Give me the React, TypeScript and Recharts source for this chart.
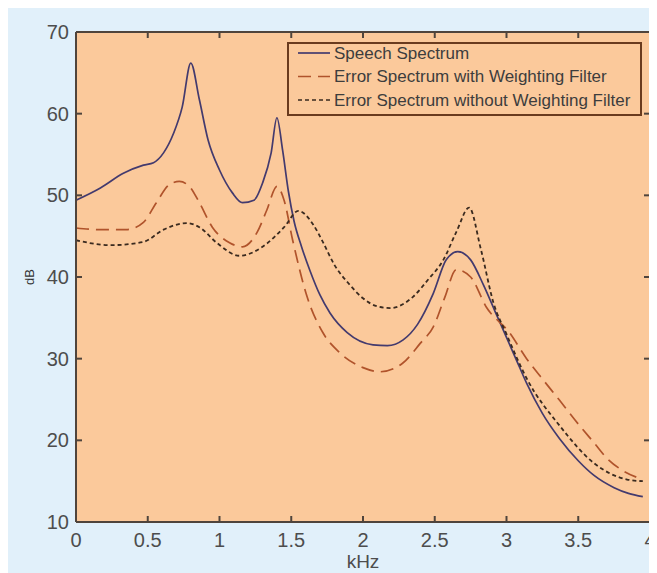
import React from 'react';
import { LineChart, Line, XAxis, YAxis, ReferenceArea, ReferenceLine, Legend } from 'recharts';

// frequency (kHz) / level (dB) samples
const speechKHz = [0, 0.17, 0.33, 0.47, 0.54, 0.61, 0.68, 0.74, 0.8, 0.86, 0.92, 1.0, 1.09, 1.16, 1.24, 1.3, 1.36, 1.4, 1.44, 1.48, 1.52, 1.57, 1.63, 1.7, 1.77, 1.89, 2.07, 2.17, 2.28, 2.38, 2.49, 2.58, 2.66, 2.75, 2.84, 2.92, 3.0, 3.07, 3.14, 3.25, 3.37, 3.5, 3.61, 3.75, 3.85, 3.95];
const speechDb = [49.4, 50.9, 52.7, 53.7, 54.0, 55.2, 57.6, 60.8, 66.2, 61.7, 56.8, 53.1, 50.3, 49.1, 49.4, 51.5, 55.2, 59.5, 55.5, 50.5, 46.8, 43.8, 40.8, 37.8, 35.6, 33.2, 31.7, 31.6, 32.3, 34.2, 38.0, 42.1, 43.1, 42.1, 39.0, 35.8, 32.6, 29.8, 27.0, 23.3, 20.2, 17.5, 15.7, 14.2, 13.5, 13.1];

const weightedKHz = [0, 0.17, 0.35, 0.47, 0.56, 0.65, 0.72, 0.79, 0.86, 0.95, 1.07, 1.16, 1.26, 1.33, 1.4, 1.45, 1.51, 1.61, 1.72, 1.84, 2.0, 2.12, 2.28, 2.4, 2.49, 2.57, 2.65, 2.75, 2.86, 3.02, 3.14, 3.26, 3.37, 3.5, 3.61, 3.7, 3.8, 3.95];
const weightedDb = [46.0, 45.8, 45.8, 46.7, 49.1, 51.3, 51.7, 51.1, 49.1, 46.1, 44.2, 43.7, 45.4, 48.2, 51.1, 49.4, 44.5, 37.6, 33.2, 30.7, 28.9, 28.4, 29.5, 31.9, 33.9, 37.5, 40.9, 40.0, 36.3, 33.2, 30.0, 27.3, 24.9, 22.0, 19.7, 17.8, 16.4, 15.2];

const plainKHz = [0, 0.24, 0.47, 0.61, 0.77, 0.86, 0.98, 1.14, 1.3, 1.45, 1.55, 1.65, 1.72, 1.8, 1.9, 2.0, 2.1, 2.19, 2.35, 2.45, 2.56, 2.65, 2.74, 2.82, 2.91, 3.0, 3.14, 3.37, 3.61, 3.84, 3.95];
const plainDb = [44.5, 43.9, 44.3, 45.8, 46.6, 46.1, 44.2, 42.6, 43.7, 46.1, 48.1, 46.5, 44.3, 41.5, 39.2, 37.4, 36.4, 36.2, 37.6, 39.6, 42.1, 45.5, 48.5, 43.5, 36.8, 33.0, 27.6, 21.8, 17.2, 15.2, 15.0];

const xTicks = [0, 0.5, 1, 1.5, 2, 2.5, 3, 3.5, 4];
const yTicks = [10, 20, 30, 40, 50, 60, 70];

const seriesNames = [
  'Speech Spectrum',
  'Error Spectrum with Weighting Filter',
  'Error Spectrum without Weighting Filter',
];

const toPoints = (xs: number[], ys: number[]) => xs.map((k, i) => ({ k, db: ys[i] }));
const speech = toPoints(speechKHz, speechDb);
const weighted = toPoints(weightedKHz, weightedDb);
const plain = toPoints(plainKHz, plainDb);

const AXIS = '#4f443c';
const FONT = '"Liberation Sans", Arial, sans-serif';
const lineStyles = [
  { stroke: '#433a6e', dash: undefined },
  { stroke: '#b0532b', dash: '13 7' },
  { stroke: '#3a2a1f', dash: '4 3' },
];

const YTick = (props: any) => (
  <text x={props.x} y={props.y} textAnchor="end" dominantBaseline="central" fontSize={20} fill="#4d4d4d" fontFamily={FONT}>
    {props.payload.value}
  </text>
);

const XTick = (props: any) => (
  <text x={props.x} y={props.y} textAnchor="middle" dominantBaseline="central" fontSize={20} fill="#4d4d4d" fontFamily={FONT}>
    {props.payload.value}
  </text>
);

const NoLabel = () => <g />;

const LegendBox = () => (
  <svg width={355} height={74} style={{ display: 'block' }}>
    <rect x={1} y={1} width={353} height={72} fill="#fbc99b" stroke="#6a3b1e" strokeWidth={2} />
    {seriesNames.map((name, i) => {
      const cy = 11 + i * 23.5;
      return (
        <g key={name}>
          <line x1={11} x2={43} y1={cy} y2={cy} stroke={lineStyles[i].stroke} strokeWidth={1.7} strokeDasharray={lineStyles[i].dash} />
          <text x={47} y={cy} dominantBaseline="central" fontSize={17} fill="#3d3d3d" fontFamily={FONT}>
            {name}
          </text>
        </g>
      );
    })}
  </svg>
);

export default function App() {
  return (
    <div style={{ width: 649, height: 565, background: '#e1f0fa' }}>
      <LineChart width={649} height={565} margin={{ top: 23, right: 6, bottom: 0, left: 0 }}>
        <ReferenceArea x1={0} x2={4} y1={10} y2={70} fill="#fbc99b" fillOpacity={1} stroke="none" ifOverflow="visible" />
        {/* box edges */}
        <ReferenceLine y={70} stroke={AXIS} strokeWidth={2} ifOverflow="visible" />
        <ReferenceLine x={4} stroke={AXIS} strokeWidth={2} ifOverflow="visible" />
        <XAxis
          dataKey="k"
          type="number"
          domain={[0, 4]}
          ticks={xTicks}
          height={51}
          allowDuplicatedCategory={false}
          stroke={AXIS}
          strokeWidth={2}
          tickSize={-6}
          tickMargin={24}
          tick={XTick}
          label={{ value: 'kHz', position: 'insideBottom', offset: 5, fontSize: 19, fill: '#4d4d4d', fontFamily: FONT }}
        />
        <XAxis
          xAxisId="top"
          orientation="top"
          dataKey="k"
          type="number"
          domain={[0, 4]}
          allowDataOverflow
          ticks={xTicks}
          height={1}
          stroke={AXIS}
          strokeWidth={2}
          tickSize={-6}
          tick={NoLabel}
        />
        <YAxis
          type="number"
          domain={[10, 70]}
          ticks={yTicks}
          width={68}
          stroke={AXIS}
          strokeWidth={2}
          tickSize={-6}
          tickMargin={13}
          tick={YTick}
          label={{ value: 'dB', angle: -90, position: 'insideLeft', offset: 21, style: { textAnchor: 'middle', fontSize: 13, fill: '#333', fontFamily: FONT } }}
        />
        <YAxis
          yAxisId="right"
          orientation="right"
          type="number"
          domain={[10, 70]}
          allowDataOverflow
          ticks={yTicks}
          width={1}
          stroke={AXIS}
          strokeWidth={2}
          tickSize={-6}
          tick={NoLabel}
        />
        <Legend
          layout="vertical"
          align="center"
          verticalAlign="middle"
          wrapperStyle={{ top: 34, left: 279, width: 355, height: 74 }}
          content={LegendBox}
        />
        {/* invisible copy so the top/right axes get data */}
        <Line data={speech} xAxisId="top" yAxisId="right" dataKey="db" stroke="none" dot={false} activeDot={false} legendType="none" isAnimationActive={false} />
        <Line data={speech} dataKey="db" name={seriesNames[0]} type="monotone" stroke={lineStyles[0].stroke} strokeWidth={1.7} dot={false} isAnimationActive={false} />
        <Line data={weighted} dataKey="db" name={seriesNames[1]} type="monotone" stroke={lineStyles[1].stroke} strokeWidth={1.7} strokeDasharray={lineStyles[1].dash} dot={false} isAnimationActive={false} />
        <Line data={plain} dataKey="db" name={seriesNames[2]} type="monotone" stroke={lineStyles[2].stroke} strokeWidth={1.8} strokeDasharray={lineStyles[2].dash} dot={false} isAnimationActive={false} />
      </LineChart>
    </div>
  );
}
